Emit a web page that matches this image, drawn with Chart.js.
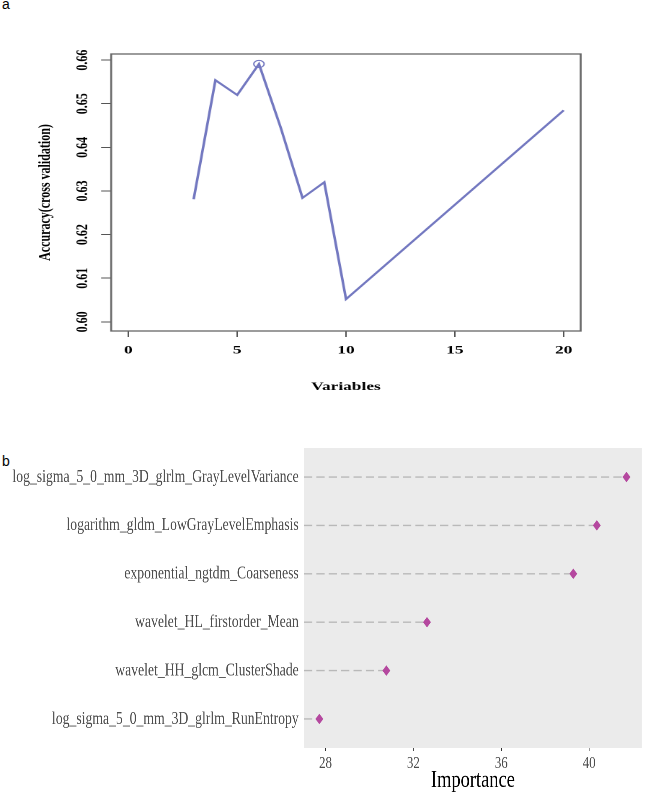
<!DOCTYPE html>
<html>
<head>
<meta charset="utf-8">
<script src="https://cdn.jsdelivr.net/npm/chart.js@4.4.1/dist/chart.umd.min.js"></script>
<style>
  html, body { margin: 0; padding: 0; background: #fff; }
  body { width: 646px; height: 797px; position: relative; overflow: hidden; }
  .lbl { position: absolute; font-family: 'Liberation Sans', Arial, sans-serif; font-size: 14px; line-height: 1; color: #000; }
  #wa { position: absolute; left: 0; top: 0; width: 448.6px; height: 400px; transform: scaleX(1.44); transform-origin: 0 0; }
  #wb { position: absolute; left: 0; top: 440px; width: 861.3px; height: 357px; transform: scaleX(0.75); transform-origin: 0 0; }
</style>
</head>
<body>
<div class="lbl" style="left:2px;top:-3.5px;">a</div>
<div class="lbl" style="left:2px;top:454px;">b</div>
<div id="wa"><canvas id="ca"></canvas></div>
<div id="wb"><canvas id="cb"></canvas></div>
<script>
// ---------- Panel a data ----------
const variables = [3, 4, 5, 6, 7, 8, 9, 10, 20];
const accuracy = [0.6281, 0.6554, 0.6520, 0.6591, 0.6445, 0.6284, 0.6320, 0.6052, 0.6485];
const variableTicks = [0, 5, 10, 15, 20];
const accuracyTicks = [0.60, 0.61, 0.62, 0.63, 0.64, 0.65, 0.66];

// ---------- Panel b data ----------
const features = [
  'log_sigma_5_0_mm_3D_glrlm_GrayLevelVariance',
  'logarithm_gldm_LowGrayLevelEmphasis',
  'exponential_ngtdm_Coarseness',
  'wavelet_HL_firstorder_Mean',
  'wavelet_HH_glcm_ClusterShade',
  'log_sigma_5_0_mm_3D_glrlm_RunEntropy'
];
const importance = [41.70, 40.35, 39.28, 32.62, 30.77, 27.72];
const importanceTicks = [28, 32, 36, 40];

const SERIF = "'Liberation Serif', 'Times New Roman', serif";
const bestAcc = Math.max(...accuracy);

function noPad(s) { s.paddingTop = 0; s.paddingBottom = 0; s.paddingLeft = 0; s.paddingRight = 0; }

// ---------- Panel a ----------
const panelAPlugin = {
  id: 'panelA',
  afterDraw(chart) {
    const ctx = chart.ctx, a = chart.chartArea;
    ctx.save();
    ctx.strokeStyle = '#666';
    ctx.lineWidth = 1.3;
    ctx.strokeRect(a.left, a.top, a.right - a.left, a.bottom - a.top);
    ctx.fillStyle = '#000';
    ctx.font = 'bold 12px ' + SERIF;
    ctx.textAlign = 'center';
    ctx.textBaseline = 'middle';
    const ys = chart.scales.y;
    ys.ticks.forEach(t => {
      const p = ys.getPixelForValue(t.value);
      ctx.save();
      ctx.translate(57.3, p);
      ctx.rotate(-Math.PI / 2);
      ctx.fillText(t.value.toFixed(2), 0, 0);
      ctx.restore();
    });
    ctx.save();
    ctx.translate(31.25, (a.top + a.bottom) / 2);
    ctx.rotate(-Math.PI / 2);
    ctx.fillText('Accuracy(cross validation)', 0, 0);
    ctx.restore();
    ctx.fillText('Variables', (a.left + a.right) / 2, 387);
    ctx.restore();
  }
};

new Chart(document.getElementById('ca'), {
  type: 'line',
  data: {
    datasets: [{
      data: variables.map((v, i) => ({ x: v, y: accuracy[i] })),
      borderColor: '#7378c0',
      borderWidth: 1.8,
      tension: 0,
      fill: false,
      pointRadius: c => (accuracy[c.dataIndex] === bestAcc ? 3.6 : 0),
      pointHoverRadius: c => (accuracy[c.dataIndex] === bestAcc ? 3.6 : 0),
      pointBorderColor: '#7378c0',
      pointBackgroundColor: 'rgba(0,0,0,0)',
      pointBorderWidth: 1
    }]
  },
  options: {
    responsive: true,
    maintainAspectRatio: false,
    devicePixelRatio: 2,
    animation: false,
    events: [],
    layout: { padding: { left: 0, top: 54, right: 45.8, bottom: 0 } },
    plugins: { legend: { display: false }, tooltip: { enabled: false } },
    scales: {
      x: {
        type: 'linear',
        min: -0.79,
        max: 20.78,
        afterBuildTicks: s => { s.ticks = variableTicks.map(v => ({ value: v })); },
        afterFit: s => { s.height = 400 - 331; noPad(s); },
        border: { display: false },
        grid: { drawOnChartArea: false, drawTicks: true, tickLength: 6, color: '#555', lineWidth: 1 },
        ticks: { color: '#000', font: { family: SERIF, size: 12, weight: 'bold' }, padding: 6, maxRotation: 0 }
      },
      y: {
        type: 'linear',
        min: 0.5979,
        max: 0.6614,
        afterBuildTicks: s => { s.ticks = accuracyTicks.map(v => ({ value: v })); },
        afterFit: s => { s.width = 77.1; noPad(s); },
        border: { display: false },
        grid: { drawOnChartArea: false, drawTicks: true, tickLength: 7, color: '#555', lineWidth: 1 },
        ticks: { display: false }
      }
    }
  },
  plugins: [panelAPlugin]
});

// ---------- Panel b ----------
const panelBPlugin = {
  id: 'panelB',
  beforeDraw(chart) {
    const ctx = chart.ctx, a = chart.chartArea;
    ctx.save();
    ctx.fillStyle = '#ebebeb';
    ctx.fillRect(a.left, a.top, a.right - a.left, a.bottom - a.top);
    ctx.restore();
  },
  beforeDatasetsDraw(chart) {
    const ctx = chart.ctx, a = chart.chartArea;
    const xs = chart.scales.x, ys = chart.scales.y;
    ctx.save();
    ctx.strokeStyle = '#b9b9b9';
    ctx.lineWidth = 1.4;
    ctx.setLineDash([11, 5.5]);
    importance.forEach((v, i) => {
      const py = ys.getPixelForValue(i + 1);
      ctx.beginPath();
      ctx.moveTo(a.left, py);
      ctx.lineTo(xs.getPixelForValue(v), py);
      ctx.stroke();
    });
    ctx.restore();
  },
  afterDraw(chart) {
    const ctx = chart.ctx, a = chart.chartArea;
    ctx.save();
    ctx.fillStyle = '#000';
    ctx.font = '24.6px ' + SERIF;
    ctx.textAlign = 'center';
    ctx.textBaseline = 'alphabetic';
    ctx.fillText('Importance', (a.left + a.right) / 2, 347);
    ctx.restore();
  }
};

new Chart(document.getElementById('cb'), {
  type: 'scatter',
  data: {
    datasets: [{
      data: importance.map((v, i) => ({ x: v, y: i + 1 })),
      pointStyle: 'rectRot',
      pointRadius: 5,
      pointHoverRadius: 5,
      backgroundColor: '#b5489f',
      borderColor: '#b5489f',
      borderWidth: 0.5
    }]
  },
  options: {
    responsive: true,
    maintainAspectRatio: false,
    devicePixelRatio: 2,
    animation: false,
    events: [],
    layout: { padding: { left: 0, top: 8, right: 1.3, bottom: 0 } },
    plugins: { legend: { display: false }, tooltip: { enabled: false } },
    scales: {
      x: {
        type: 'linear',
        min: 27.02,
        max: 42.40,
        afterBuildTicks: s => { s.ticks = importanceTicks.map(v => ({ value: v })); },
        afterFit: s => { s.height = 357 - 308; noPad(s); },
        border: { display: false },
        grid: { drawOnChartArea: false, drawTicks: true, tickLength: 3, color: '#333', lineWidth: 1 },
        ticks: { color: '#4d4d4d', font: { family: SERIF, size: 17.3 }, padding: 2, maxRotation: 0 }
      },
      y: {
        type: 'linear',
        min: 0.4,
        max: 6.6,
        reverse: true,
        afterBuildTicks: s => { s.ticks = features.map((f, i) => ({ value: i + 1 })); },
        afterFit: s => { s.width = 405.3; noPad(s); },
        border: { display: false },
        grid: { drawOnChartArea: false, drawTicks: false },
        ticks: {
          color: '#4d4d4d',
          font: { family: SERIF, size: 18.3 },
          padding: 7,
          callback: (v, i) => features[i]
        }
      }
    }
  },
  plugins: [panelBPlugin]
});
</script>
</body>
</html>
